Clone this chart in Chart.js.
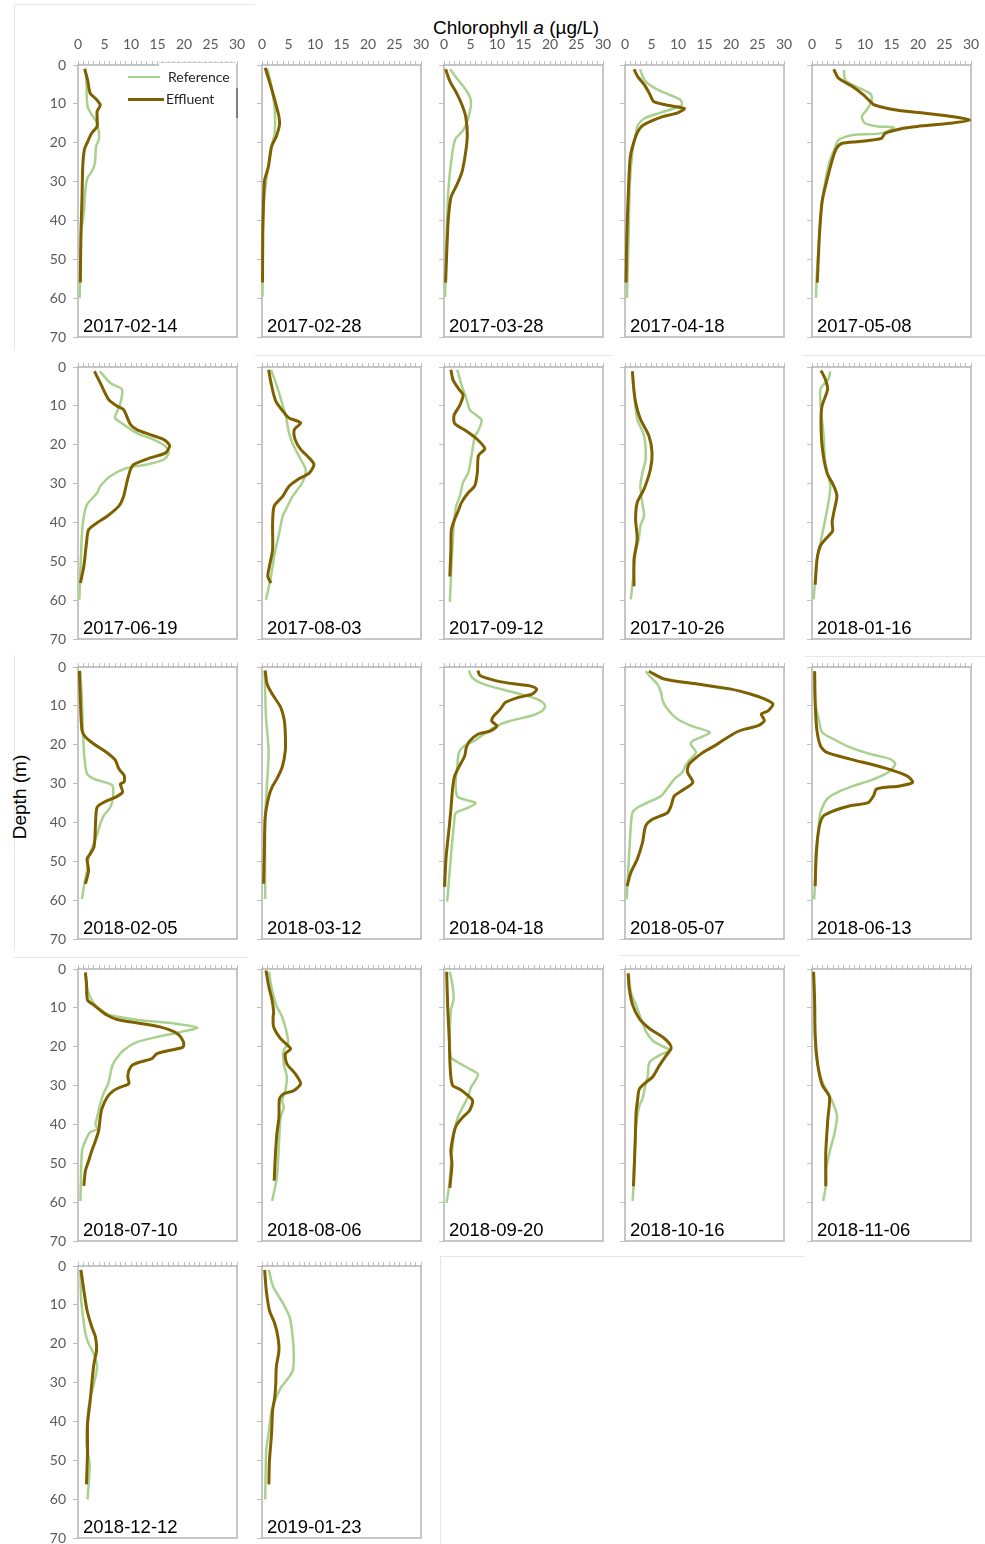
<!DOCTYPE html>
<html>
<head>
<meta charset="utf-8">
<script src="https://cdn.jsdelivr.net/npm/chart.js@4.4.0/dist/chart.umd.min.js"></script>
<style>
body { margin: 0; background: #fff; width: 985px; height: 1544px; position: relative; overflow: hidden;
       font-family: "Liberation Sans", Arial, sans-serif; }
canvas { position: absolute; }
.abs { position: absolute; }
.faint { position: absolute; background: #e6e6e6; }
#title { left: 433px; top: 17px; font-size: 19px; line-height: 22px; color: #000; white-space: nowrap; }
#ylab { left: -40px; top: 786px; width: 120px; height: 22px; line-height: 22px; font-size: 19px; text-align: center; transform: rotate(-90deg); }
.legline { position: absolute; height: 0; }
.legtxt { position: absolute; font-family: Lato, "Open Sans", sans-serif; font-size: 14px; line-height: 16px; color: #262626; }
</style>
</head>
<body>
<div class="faint" style="left:15px;top:4px;width:240px;height:1px"></div>
<div class="faint" style="left:14px;top:4px;width:1px;height:346px"></div>
<div class="faint" style="left:255px;top:355px;width:357px;height:1px"></div>
<div class="faint" style="left:803px;top:355px;width:182px;height:1px"></div>
<div class="faint" style="left:14px;top:655px;width:1px;height:295px"></div>
<div class="faint" style="left:805px;top:656px;width:180px;height:1px"></div>
<div class="faint" style="left:14px;top:957px;width:234px;height:1px"></div>
<div class="faint" style="left:620px;top:955px;width:180px;height:1px"></div>
<div class="faint" style="left:440px;top:1256px;width:1px;height:288px"></div>
<div class="faint" style="left:440px;top:1256px;width:365px;height:1px"></div>

<div id="title" class="abs">Chlorophyll <i>a</i> (µg/L)</div>
<div id="ylab" class="abs">Depth (m)</div>

<script>
// sampling dates (one panel each)
const dates = ['2017-02-14', '2017-02-28', '2017-03-28', '2017-04-18', '2017-05-08',
               '2017-06-19', '2017-08-03', '2017-09-12', '2017-10-26', '2018-01-16',
               '2018-02-05', '2018-03-12', '2018-04-18', '2018-05-07', '2018-06-13',
               '2018-07-10', '2018-08-06', '2018-09-20', '2018-10-16', '2018-11-06',
               '2018-12-12', '2019-01-23'];

const xTicks = [0, 5, 10, 15, 20, 25, 30];
const depthTicks = [0, 10, 20, 30, 40, 50, 60, 70];

// profiles as [chlorophyll a (ug/L), depth (m)]
const ref_170214 = [[1.4,0.9],[1.6,5],[1.8,10.7],[2.6,12.8],[3.6,15],[4.0,18.8],[3.4,21],[3.2,25.2],[2.6,27.4],[1.8,29],[1.4,32],[1.1,38],[0.6,43],[0.3,60]];
const eff_170214 = [[1.25,1.0],[1.8,3.8],[2.3,7.3],[3.3,8.6],[4.2,10.3],[3.6,12],[3.6,15.8],[2.6,17.5],[1.7,20.1],[1.2,21.8],[0.9,26],[0.75,34.6],[0.56,43],[0.44,56]];

const ref_170228 = [[1.0,0.9],[1.8,5.6],[2.4,11.6],[2.4,17.6],[1.8,21],[1.2,26.2],[0.9,28.7],[0.4,34.7],[0.15,43],[0.1,59.6]];
const eff_170228 = [[0.6,0.7],[1.5,4.7],[2.4,9],[3.2,13.3],[3.3,15.4],[2.7,18.4],[1.8,21],[1.2,26.2],[0.5,29.6],[0.3,34.7],[0.15,43],[0.1,56]];

const ref_170328 = [[1.15,1.1],[2.4,3.4],[3.7,5.6],[4.7,7.7],[5.1,9.4],[4.9,12],[4.1,15.5],[3.4,17.2],[2.2,18.9],[1.7,21.5],[1.35,24.9],[1.0,29.2],[0.7,35.2],[0.5,43.8],[0.2,59.7]];
const eff_170328 = [[0.3,1.1],[1.15,4.3],[2.4,7.3],[3.4,10.3],[4.1,13.3],[4.4,18],[4.1,22.3],[3.4,27.5],[2.4,30.9],[1.35,33.9],[1.0,36.9],[0.7,42],[0.3,56]];

const ref_170418 = [[2.85,1.1],[3.7,3.9],[5.7,6],[8.4,7.7],[10.5,9.0],[10.7,10.3],[9.2,11.2],[6.4,12.4],[3.7,13.7],[2.4,15.5],[2.0,18],[1.4,22.3],[0.9,30.9],[0.7,43.8],[0.35,60]];
const eff_170418 = [[1.7,1.1],[2.4,3],[3.7,5.2],[4.75,7.7],[5.4,9.4],[7.8,10.3],[11.2,11.2],[9.8,12.4],[7.1,13.3],[3.4,15.5],[2.4,17.2],[1.7,19.7],[1.0,23.6],[0.7,30.5],[0.35,43.8],[0.2,56]];

const ref_170508 = [[6.0,1.3],[6.3,3.9],[8.4,5.6],[10.4,6.9],[11.2,7.7],[11.2,9.4],[10.5,11.2],[9.4,13.3],[10.0,15],[12.4,15.8],[15.5,16.1],[13.1,17.6],[7.7,18],[5.0,19.3],[4.3,21.5],[3.3,24.9],[2.6,29.2],[1.9,35.2],[1.4,43.8],[0.9,54],[0.75,60]];
const eff_170508 = [[4.1,1.1],[5.0,3.4],[7.7,5.6],[9.7,7.7],[11.0,9.4],[11.8,10.3],[15.9,11.6],[21.3,12.4],[26.7,13.3],[29.7,14.2],[26.1,15],[19.9,15.8],[17.2,16.3],[13.8,17.6],[13.1,18.9],[9.0,19.7],[5.6,20.2],[4.6,21.5],[3.9,24.1],[2.9,29.2],[1.9,35.2],[1.4,43.8],[1.0,56]];

const ref_170619 = [[4.1,1.1],[6.1,4.1],[8.3,5.8],[8.0,9.3],[7.4,11.4],[7.0,13.1],[8.6,14.8],[11.1,17],[14.3,18.7],[16.5,20.4],[17.1,22.1],[16.2,23.8],[13.0,25.1],[9.2,26],[6.1,28.1],[4.2,30.7],[3.6,32.4],[1.7,35.4],[1.1,38.4],[0.75,42.7],[0.25,59.9]];
const eff_170619 = [[3.1,1.1],[4.2,4.1],[5.8,8.4],[7.4,10.1],[8.6,11],[9.9,14.8],[11.1,16.1],[13.6,17.4],[16.2,18.7],[17.3,20.2],[16.5,22.1],[13.6,23.4],[10.5,25.1],[9.9,26.4],[9.2,29.8],[8.6,33.3],[7.7,35.8],[5.5,38.4],[3.6,40.1],[2.0,41.9],[1.6,45.3],[1.1,51.3],[0.45,55.6]];

const ref_170803 = [[1.7,0.7],[2.6,4.1],[3.6,8.4],[4.5,12.7],[5.1,17],[5.75,19.6],[7.0,23],[8.25,26.4],[7.6,29.8],[5.75,33.3],[4.5,36.7],[3.9,38.4],[3.25,42.7],[2.3,48.7],[1.7,53.9],[0.75,59.9]];
const eff_170803 = [[1.25,0.7],[1.7,4.1],[2.6,8.8],[4.2,11.8],[5.1,13.1],[7.3,14.4],[6.1,16.1],[6.25,18.7],[7.3,21.2],[8.9,23.4],[9.8,25.1],[8.9,27.3],[6.7,29.0],[5.1,30.7],[3.9,33.3],[2.3,35.8],[2.0,40.1],[2.0,47],[1.4,51.3],[1.1,53.9],[1.7,55.6]];

const ref_170912 = [[2.5,0.7],[3.3,4.6],[4.2,8.1],[4.9,11.1],[6.1,12.4],[7.1,13.7],[6.5,16.3],[5.8,18],[5.2,22.8],[4.6,27.1],[3.6,29.7],[3.0,33.2],[2.3,35.8],[1.9,40.1],[1.5,48.7],[1.1,60.4]];
const eff_170912 = [[1.3,0.7],[1.7,3.3],[2.7,5.5],[3.6,7.2],[3.0,9.8],[1.9,12.4],[2.0,14.5],[4.0,16.3],[6.1,18.4],[7.7,21.0],[6.5,22.8],[6.3,27.1],[5.8,30.6],[4.6,32.3],[3.3,34.9],[2.7,37],[2.0,39.2],[1.4,41.8],[1.3,47],[1.1,53.9]];

const ref_171026 = [[1.4,1.1],[1.7,6.5],[2.3,13.4],[3.6,17.7],[3.9,23.7],[3.3,27.1],[2.9,30.6],[3.25,34.9],[3.6,38.3],[2.9,40.9],[2.6,44.3],[2.0,47.8],[1.7,52.1],[1.1,59.8]];
const eff_171026 = [[1.4,1.1],[1.6,4.8],[2.0,9.1],[2.9,13.4],[4.5,17.7],[5.1,22],[4.8,26.3],[3.6,31.4],[2.3,34.9],[2.0,39.2],[2.3,44.3],[1.7,49.5],[1.7,56.4]];

const ref_180116 = [[3.45,1.1],[3.1,3.1],[1.6,5.7],[1.7,10.8],[2.2,17.7],[2.5,24.6],[3.45,30.6],[3.1,34.9],[2.5,39.2],[1.6,45.2],[0.95,49.5],[0.3,59.8]];
const eff_180116 = [[1.7,0.9],[2.5,3.1],[2.95,5.7],[1.9,10],[1.7,13.4],[1.9,20.3],[2.8,27.1],[4.1,30.6],[4.7,33.2],[4.1,37.5],[3.8,40],[3.9,42.2],[3.1,43.5],[1.6,46],[0.95,49.5],[0.6,56]];

const ref_180205 = [[0.45,1],[0.75,8.6],[0.95,17.2],[1.2,23.2],[1.7,27.5],[3.0,28.8],[4.9,29.6],[6.5,30.5],[6.6,33.5],[6.1,36.1],[4.9,38.2],[4.2,40.4],[3.6,43],[2.7,46.4],[2.0,49],[1.8,51.5],[1.2,55.8],[0.75,59.7]];
const eff_180205 = [[0.25,1],[0.45,8.6],[0.75,16.3],[1.4,18],[3.0,19.8],[4.9,21.5],[6.5,23.2],[7.1,24.1],[7.7,26.2],[8.7,27.9],[8.7,29.6],[8.0,30.1],[8.4,32.2],[7.1,33.5],[4.9,34.8],[3.6,36.1],[3.3,40.4],[3.2,43.8],[3.0,46.4],[2.3,48.1],[1.7,49.4],[2.0,52.4],[1.4,55.8]];

const ref_180312 = [[0.5,1],[0.75,12.9],[1.25,21.5],[0.95,30.1],[0.6,38.7],[0.6,59.7]];
const eff_180312 = [[0.6,0.9],[0.95,4.3],[1.9,6.9],[3.5,10.3],[4.2,13.7],[4.4,17.2],[4.4,21.5],[3.8,25.8],[2.8,28.8],[1.9,30.9],[1.25,33.5],[0.6,38.7],[0.45,47.3],[0.3,55.8]];

const ref_180418 = [[4.7,0.9],[5.3,2.7],[7.5,4.4],[11.9,6.1],[15.7,7.4],[18.2,8.7],[19.1,10],[18.5,11.3],[16.3,12.6],[12.4,13.9],[9.9,15.2],[7.5,17.3],[5.6,19.1],[3.8,20.3],[2.8,22.1],[2.5,25.5],[2.2,29.8],[2.5,33.3],[3.8,34.1],[6.0,35],[4.4,36.3],[2.2,37.6],[1.9,40.2],[1.3,48.8],[0.6,60.4]];
const eff_180418 = [[6.4,0.9],[6.8,2.2],[9.7,3.5],[13.5,4.4],[16.0,4.8],[17.5,5.7],[16.6,7],[14.1,7.8],[11.6,9.1],[10.6,10.9],[9.4,12.6],[9.0,13.9],[10.0,15.2],[8.7,16.5],[6.4,17.3],[4.8,19.1],[4.2,20.8],[3.9,22.9],[2.9,25.5],[2.0,28.1],[1.6,31.6],[1.3,36.7],[1.0,41],[0.4,48.8],[0.1,56.6]];

const ref_180507 = [[3.9,1.1],[4.9,2.7],[6.1,4.4],[6.8,6.5],[7.1,8.7],[8.0,10.8],[9.9,13.4],[12.4,15.1],[16.0,16.8],[14.3,18.1],[12.8,19],[12.4,19.8],[13.4,22],[12.1,24.1],[11.4,25.4],[10.8,27.1],[9.3,28.9],[8.3,30.6],[6.8,33.2],[4.2,34.9],[2.3,36.2],[1.4,37.5],[1.1,40.9],[0.8,47.8],[0.3,59.8]];
const eff_180507 = [[4.5,1.1],[7.4,3.1],[13.7,4.4],[20.0,5.7],[23.8,7],[26.3,8.2],[27.9,9.5],[27.0,11.3],[25.7,12.1],[26.3,13.8],[25.1,15.1],[22.6,16.0],[21.0,16.8],[18.8,18.6],[16.9,20.3],[14.7,22],[13.1,23.7],[12.1,25],[11.8,27.1],[12.8,29.7],[11.2,31.4],[9.3,33.2],[8.7,35.7],[8.0,37.5],[5.2,39.2],[3.9,40.9],[3.3,45.2],[2.3,49.5],[1.1,52.9],[0.4,56.4]];

const ref_180613 = [[0.5,1.1],[0.6,9.1],[1.25,13.4],[1.9,16.8],[4.1,18.6],[7.2,20.7],[11.0,22.4],[14.8,23.7],[15.7,25],[14.4,27.1],[11.6,28.9],[7.8,30.6],[4.7,32.3],[2.8,34],[1.6,37.5],[1.25,40.9],[0.9,47.8],[0.4,59.8]];
const eff_180613 = [[0.5,1.1],[0.6,9.1],[0.9,16],[1.6,20.3],[2.8,22],[7.2,23.7],[13.5,25.9],[17.9,28],[19.0,29.7],[16.6,30.6],[12.2,31.4],[11.6,33.2],[10.6,34.9],[7.2,35.7],[4.1,37],[2.2,38.3],[1.4,40.9],[0.8,47.8],[0.6,56.4]];

const ref_180710 = [[1.4,0.9],[1.8,5.4],[3.0,8.9],[4.8,11],[6.1,11.9],[11.8,13.2],[18.1,14],[22.5,15.1],[19.4,16.2],[14.9,17.5],[11.1,18.8],[8.6,20.9],[7.0,23.5],[6.4,25.2],[5.7,29.5],[4.8,32.1],[4.2,34.7],[3.6,38.2],[3.3,39.9],[3.6,41.2],[2.3,42],[1.4,44.2],[0.75,46.8],[0.45,59.7]];
const eff_180710 = [[1.4,0.9],[1.6,3.7],[1.8,8],[3.0,9.3],[4.2,10.6],[5.5,11.9],[7.4,13],[11.8,14],[15.5,14.9],[18.7,16.6],[19.9,18.8],[19.8,20.1],[17.4,20.9],[14.9,21.8],[13.9,23.1],[11.8,23.9],[10.2,24.8],[9.6,26.1],[9.4,27.8],[9.6,29.5],[8.0,30.4],[6.7,31.3],[5.5,33],[4.5,36],[4.2,38.2],[3.9,41.6],[3.3,44.2],[2.6,46.8],[2.0,49.4],[1.4,51.9],[1.1,55.8]];

const ref_180806 = [[1.3,0.7],[1.9,5.4],[2.8,9.7],[3.8,12.3],[4.7,16.6],[4.9,19.2],[4.1,20.9],[4.1,24.4],[4.7,27.8],[4.4,31.3],[3.8,33.9],[4.1,35.6],[3.5,38.2],[3.2,45],[2.8,53.7],[1.9,59.7]];
const eff_180806 = [[0.75,0.4],[1.3,4.6],[1.9,8],[2.2,11],[2.1,12.3],[2.2,14.9],[3.5,17.9],[5.4,20.5],[4.4,21.8],[4.7,24.4],[6.3,27],[7.3,29.5],[6.0,31.3],[4.1,32.1],[3.3,33.4],[3.2,38.2],[2.8,42.5],[2.5,48.5],[2.3,54.5]];

const ref_180920 = [[1.1,0.7],[1.65,4.6],[1.8,8],[1.3,10.6],[1.1,18.4],[1.3,22.7],[2.6,24],[4.8,25.7],[6.4,27],[6.1,28.3],[5.1,30.4],[4.5,33],[3.5,35.6],[2.6,38.2],[2.0,41.6],[1.65,45.1],[1.3,50.3],[1.0,55.4],[0.5,60.2]];
const eff_180920 = [[0.5,0.7],[0.7,9.7],[1.0,18.4],[1.1,23.5],[1.3,27.8],[1.65,30],[2.9,30.9],[4.2,32.2],[5.4,33.9],[4.8,36.5],[3.5,38.2],[2.3,40.3],[1.8,42.5],[1.3,46.8],[1.5,50.3],[1.1,56.3]];

const ref_181016 = [[0.7,1.1],[1.1,5.9],[2.1,9.3],[3.0,12.8],[4.0,16.2],[5.2,18.4],[6.8,19.7],[8.4,20.9],[6.5,22.2],[4.6,24],[4.3,27.4],[3.7,30.9],[3.3,33.4],[2.7,35.2],[2.1,40.3],[1.8,47.2],[1.6,55.9],[1.45,59.7]];
const eff_181016 = [[0.6,1.1],[0.8,5],[1.45,9.3],[2.7,12.8],[4.6,15.3],[7.1,17.5],[8.4,19.2],[8.7,20.5],[7.8,22.2],[6.5,24.8],[5.2,27.8],[4.0,29.1],[2.7,30.9],[2.4,33.4],[2.1,36.9],[1.9,45.5],[1.6,55.9]];

const ref_181106 = [[0.3,0.9],[0.5,12.8],[0.7,21.4],[1.1,24.8],[2.1,29.5],[3.6,33.4],[4.7,37.6],[4.3,42],[3.3,47.2],[2.7,51.5],[2.6,55.9],[2.1,59.7]];
const eff_181106 = [[0.3,0.7],[0.5,8.4],[0.6,17],[1.1,24.8],[1.95,29.9],[3.3,32.9],[3.0,38.4],[2.6,47.2],[2.6,55.9]];

const ref_181212 = [[0.45,1],[0.6,8.8],[0.95,13.1],[1.4,17.4],[2.0,20],[3.0,22.6],[3.6,26],[3.0,30.3],[2.2,34.7],[1.8,39],[1.6,45.9],[2.2,51],[1.8,60.1]];
const eff_181212 = [[0.55,1],[1.1,6.2],[1.7,11.4],[2.6,15.7],[3.3,18.3],[3.5,21.7],[3.0,25.2],[2.6,30.3],[2.3,34.7],[1.8,40.7],[1.8,47.6],[1.6,56.2]];

const ref_190123 = [[1.3,1],[2.1,5.3],[4.0,9.7],[5.2,13.1],[5.8,18.3],[6.0,23.4],[5.8,26.9],[4.6,29.5],[3.6,31.2],[2.7,33.8],[1.8,37.2],[1.3,42.4],[0.8,47.6],[0.6,60.1]];
const eff_190123 = [[0.5,1],[0.8,6.2],[1.4,11.4],[2.4,14.8],[3.0,18.3],[3.2,21.7],[2.7,26],[2.6,30.3],[2.4,33.8],[2.0,37.2],[1.8,43.3],[1.4,50.2],[1.3,56.2]];

const refProfiles = [ref_170214, ref_170228, ref_170328, ref_170418, ref_170508,
                     ref_170619, ref_170803, ref_170912, ref_171026, ref_180116,
                     ref_180205, ref_180312, ref_180418, ref_180507, ref_180613,
                     ref_180710, ref_180806, ref_180920, ref_181016, ref_181106,
                     ref_181212, ref_190123];
const effProfiles = [eff_170214, eff_170228, eff_170328, eff_170418, eff_170508,
                     eff_170619, eff_170803, eff_170912, eff_171026, eff_180116,
                     eff_180205, eff_180312, eff_180418, eff_180507, eff_180613,
                     eff_180710, eff_180806, eff_180920, eff_181016, eff_181106,
                     eff_181212, eff_190123];

// panel grid (plot area corners on the page)
const colLeft = [78, 262, 444, 625, 812];
const rowTop = [65, 367, 667, 969, 1266];
const plotW = 159, plotH = 272;
const yAxisW = 45, xAxisH = 35, padR = 12, padB = 12;

const GREEN = '#a9d18e';
const BROWN = '#7f6000';
const FRAME = '#b4b4b4';
const TICK = '#bfbfbf';
const LABEL = '#595959';

const panelBox = {
    id: 'panelBox',
    beforeDatasetsDraw(chart) {
        const a = chart.chartArea;
        const ctx = chart.ctx;
        ctx.save();
        ctx.strokeStyle = FRAME;
        ctx.lineWidth = 1.5;
        ctx.strokeRect(a.left, a.top, a.right - a.left, a.bottom - a.top);
        ctx.restore();
    },
    afterDraw(chart, args, opts) {
        const a = chart.chartArea;
        const ctx = chart.ctx;
        ctx.save();
        ctx.fillStyle = '#000';
        ctx.font = '18.5px "Liberation Sans", Arial, sans-serif';
        ctx.textBaseline = 'alphabetic';
        ctx.fillText(opts.label, a.left + 5, a.bottom - 5);
        ctx.restore();
    }
};

function toPoints(arr) {
    return arr.map(p => ({x: p[0], y: p[1]}));
}

// keep every plot area the same size, whatever labels are shown
function fixX(s) {
    s.height = xAxisH;
    s.paddingLeft = 0;
    s.paddingRight = 0;
}
function fixY(s) {
    s.width = yAxisW;
    s.paddingTop = 0;
    s.paddingBottom = 0;
}

function makePanel(i) {
    const row = Math.floor(i / 5);
    const col = i % 5;
    const cv = document.createElement('canvas');
    cv.width = yAxisW + plotW + padR;
    cv.height = xAxisH + plotH + padB;
    cv.style.left = (colLeft[col] - yAxisW) + 'px';
    cv.style.top = (rowTop[row] - xAxisH) + 'px';
    document.body.appendChild(cv);

    const tickFont = {family: 'Lato, "Open Sans", sans-serif', size: 14};

    return new Chart(cv, {
        type: 'scatter',
        data: {
            datasets: [{
                label: 'Effluent',
                data: toPoints(effProfiles[i]),
                showLine: true,
                borderColor: BROWN,
                borderWidth: 3,
                pointRadius: 0,
                tension: 0.25,
                clip: 5
            }, {
                label: 'Reference',
                data: toPoints(refProfiles[i]),
                showLine: true,
                borderColor: GREEN,
                borderWidth: 2.5,
                pointRadius: 0,
                tension: 0.25,
                clip: 5
            }]
        },
        options: {
            responsive: false,
            animation: false,
            events: [],
            layout: {padding: {left: 0, top: 0, right: padR, bottom: padB}},
            plugins: {
                legend: {display: false},
                tooltip: {enabled: false},
                panelBox: {label: dates[i]}
            },
            scales: {
                x: {
                    type: 'linear',
                    position: 'top',
                    min: xTicks[0],
                    max: xTicks[xTicks.length - 1],
                    afterFit: fixX,
                    ticks: {
                        stepSize: 1,
                        maxTicksLimit: 100,
                        autoSkip: false,
                        maxRotation: 0,
                        padding: 8,
                        color: LABEL,
                        font: tickFont,
                        callback: v => (row === 0 && xTicks.includes(v)) ? String(v) : ''
                    },
                    grid: {drawOnChartArea: false, drawTicks: true, tickLength: 4, color: TICK},
                    border: {display: false}
                },
                y: {
                    type: 'linear',
                    reverse: true,
                    min: depthTicks[0],
                    max: depthTicks[depthTicks.length - 1],
                    afterFit: fixY,
                    ticks: {
                        stepSize: 10,
                        padding: 7,
                        color: LABEL,
                        font: tickFont,
                        callback: v => (col === 0 && depthTicks.includes(v)) ? String(v) : ''
                    },
                    grid: {drawOnChartArea: false, drawTicks: true, tickLength: 5, color: TICK},
                    border: {display: false}
                }
            }
        },
        plugins: [panelBox]
    });
}

for (let i = 0; i < dates.length; i++) {
    makePanel(i);
}
</script>

<!-- legend box in the first panel -->
<div class="abs" style="left:159px;top:62px;width:77px;height:58px;background:#fff;border-top:1px solid #d0d0d0;z-index:2"></div>
<div class="abs" style="left:236px;top:88px;width:2px;height:30px;background:#7f7f7f;z-index:3"></div>
<div class="legline" style="left:128px;top:76px;width:32px;border-top:2.5px solid #a9d18e;z-index:3"></div>
<div class="legtxt" style="left:168px;top:69px;z-index:3">Reference</div>
<div class="legline" style="left:128px;top:98px;width:36px;border-top:3px solid #7f6000;z-index:3"></div>
<div class="legtxt" style="left:166px;top:91px;z-index:3">Effluent</div>
</body>
</html>
